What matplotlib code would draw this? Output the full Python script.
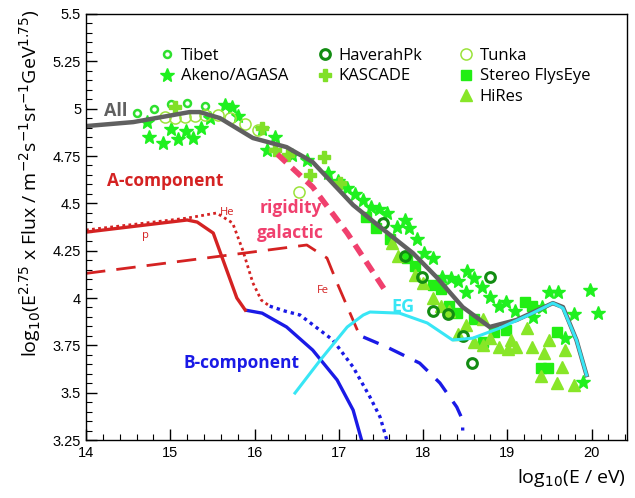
import matplotlib
matplotlib.use("Agg")
import matplotlib.pyplot as plt
from matplotlib.ticker import MultipleLocator

# ---------------- data ----------------
all_x = [14.0, 14.56, 15.23, 15.35, 15.59, 15.98, 16.38, 16.69, 17.17, 17.49, 17.88, 18.16, 18.47, 18.79, 19.11, 19.54, 19.66, 19.82, 19.94]
all_y = [4.908, 4.929, 4.982, 4.982, 4.95, 4.845, 4.797, 4.718, 4.491, 4.375, 4.237, 4.11, 3.952, 3.847, 3.884, 3.973, 3.952, 3.778, 3.593]

eg_x = [16.48, 16.78, 17.10, 17.29, 17.37, 17.72, 18.05, 18.35, 18.59, 18.91, 19.30, 19.54, 19.66, 19.82, 19.94]
eg_y = [3.498, 3.672, 3.847, 3.91, 3.926, 3.92, 3.868, 3.778, 3.788, 3.841, 3.92, 3.973, 3.947, 3.778, 3.593]

pA_x = [14.0, 15.20, 15.32, 15.51, 15.79, 15.89]
pA_y = [4.348, 4.412, 4.401, 4.343, 4.0, 3.936]
pB_x = [15.89, 16.09, 16.38, 16.69, 16.98, 17.17, 17.27, 17.30]
pB_y = [3.936, 3.92, 3.847, 3.725, 3.567, 3.408, 3.25, 3.20]

heA_x = [14.0, 15.20, 15.55, 15.74, 15.86, 15.98, 16.08, 16.18]
heA_y = [4.359, 4.422, 4.449, 4.396, 4.253, 4.08, 3.989, 3.957]
heB_x = [16.18, 16.36, 16.54, 16.93, 17.17, 17.37, 17.49, 17.57, 17.60]
heB_y = [3.957, 3.931, 3.910, 3.778, 3.635, 3.477, 3.371, 3.25, 3.20]

feA_x = [14.0, 15.98, 16.62, 16.86, 16.98, 17.23, 17.29]
feA_y = [4.13, 4.243, 4.280, 4.211, 4.079, 3.820, 3.794]
feB_x = [17.29, 17.57, 17.96, 18.20, 18.40, 18.47, 18.47]
feB_y = [3.794, 3.741, 3.656, 3.551, 3.424, 3.355, 3.30]

rig_x = [16.27, 16.69, 17.10, 17.57]
rig_y = [4.76, 4.586, 4.343, 4.026]

tibet_x = [14.61, 14.81, 15.01, 15.20, 15.41]
tibet_y = [4.977, 4.998, 5.025, 5.030, 5.014]

tunka_x = [14.94, 15.06, 15.17, 15.29, 15.41, 15.57, 15.71, 15.89, 16.04, 16.53]
tunka_y = [4.956, 4.951, 4.956, 4.961, 4.966, 4.966, 4.951, 4.919, 4.887, 4.56]

agasa_x = [14.72, 14.75, 14.91, 15.01, 15.09, 15.19, 15.27, 15.36, 15.47, 15.65, 15.73, 15.80, 16.09, 16.24, 16.15,
           16.44, 16.62, 16.87, 16.99, 17.10, 17.19, 17.29, 17.38, 17.48, 17.57, 17.69, 17.78, 17.83, 17.93, 18.01,
           18.12, 18.22, 18.33, 18.42, 18.52, 18.60, 18.70, 18.51, 18.80, 18.90, 18.99, 19.09, 19.30, 19.41, 19.49,
           19.60, 19.79, 19.98, 20.07, 19.69, 19.90]
agasa_y = [4.93, 4.85, 4.82, 4.89, 4.84, 4.88, 4.845, 4.90, 4.95, 5.02, 5.01, 4.96, 4.89, 4.85, 4.78,
           4.755, 4.73, 4.66, 4.62, 4.58, 4.55, 4.52, 4.48, 4.47, 4.45, 4.375, 4.41, 4.37, 4.31, 4.24,
           4.21, 4.11, 4.105, 4.09, 4.14, 4.105, 4.06, 4.03, 4.005, 3.96, 3.98, 3.93, 3.90, 3.95, 4.03,
           4.03, 3.915, 4.04, 3.92, 3.79, 3.556]

haverah_x = [17.52, 17.78, 17.99, 18.12, 18.29, 18.47, 18.58, 18.79]
haverah_y = [4.396, 4.22, 4.11, 3.93, 3.915, 3.80, 3.656, 4.11]

kascade_x = [15.06, 16.09, 16.24, 16.40, 16.66, 16.82, 17.01]
kascade_y = [5.01, 4.90, 4.78, 4.755, 4.65, 4.745, 4.61]

flys_x = [17.32, 17.44, 17.61, 17.81, 17.91, 18.12, 18.21, 18.31, 18.40, 18.61, 18.71, 18.84, 18.99, 19.21, 19.29, 19.59, 19.40, 19.48]
flys_y = [4.43, 4.37, 4.31, 4.21, 4.17, 4.07, 4.05, 3.96, 3.92, 3.89, 3.77, 3.82, 3.83, 3.98, 3.96, 3.82, 3.63, 3.63]

hires_x = [17.63, 17.70, 17.90, 18.00, 18.12, 18.21, 18.31, 18.41, 18.51, 18.60, 18.71, 18.71, 18.80, 18.90, 19.01,
           19.10, 19.04, 19.23, 19.29, 19.44, 19.49, 19.69, 19.65, 19.59, 19.79, 19.40]
hires_y = [4.29, 4.22, 4.12, 4.08, 4.00, 3.96, 3.93, 3.81, 3.86, 3.77, 3.89, 3.75, 3.79, 3.74, 3.73,
           3.74, 3.78, 3.84, 3.74, 3.71, 3.78, 3.725, 3.635, 3.55, 3.54, 3.59]

x_ticks = [14, 15, 16, 17, 18, 19, 20]
y_ticks = [3.25, 3.5, 3.75, 4.0, 4.25, 4.5, 4.75, 5.0, 5.25, 5.5]
y_ticklabels = ["3.25", "3.5", "3.75", "4", "4.25", "4.5", "4.75", "5", "5.25", "5.5"]

# ---------------- styles ----------------
TXT = ["Open Sans", "DejaVu Sans"]
C_GRAY = "#606060"
C_RED = "#d42222"
C_BLUE = "#1a1ae6"
C_CYAN = "#38e6f5"
C_PINK = "#f0406e"

fig = plt.figure(figsize=(6.35, 4.98), dpi=100)
ax = fig.add_axes([86/635, 1-440/498, (627-86)/635, (440-14)/498])

# data points
ax.plot(tibet_x, tibet_y, 'o', ls='none', ms=5, mfc='none', mec='#2ee02e', mew=1.8, label='Tibet')
ax.plot(agasa_x, agasa_y, '*', ls='none', ms=10.5, color='#1ff01f', mec='#1ff01f', label='Akeno/AGASA')
ax.plot(tunka_x, tunka_y, 'o', ls='none', ms=8, mfc='none', mec='#9be33a', mew=1.1, label='Tunka')
ax.plot(kascade_x, kascade_y, 'P', ls='none', ms=8, color='#80e028', mec='#80e028', label='KASCADE')
ax.plot(flys_x, flys_y, 's', ls='none', ms=7, color='#22ee14', mec='#22ee14', label='Stereo FlysEye')
ax.plot(hires_x, hires_y, '^', ls='none', ms=8, color='#88e628', mec='#88e628', label='HiRes')
ax.plot(haverah_x, haverah_y, 'o', ls='none', ms=7, mfc='none', mec='#128c12', mew=2.2, label='HaverahPk')

# lines
ax.plot(pB_x, pB_y, '-', color=C_BLUE, lw=2.4, solid_capstyle='butt')
ax.plot(heB_x, heB_y, color=C_BLUE, lw=2.4, ls=(0, (1, 1.2)))
ax.plot(feB_x, feB_y, color=C_BLUE, lw=2.4, ls=(0, (5, 3.5)))
ax.plot(pA_x, pA_y, '-', color=C_RED, lw=2.4)
ax.plot(heA_x, heA_y, color=C_RED, lw=2.0, ls=(0, (1, 1.2)))
ax.plot(feA_x, feA_y, color=C_RED, lw=2.0, ls=(0, (7, 4)))
ax.plot(rig_x, rig_y, color=C_PINK, lw=4.0, ls=(0, (2.2, 1.4)))
ax.plot(all_x, all_y, '-', color=C_GRAY, lw=3.2, solid_joinstyle='round')
ax.plot(eg_x, eg_y, '-', color=C_CYAN, lw=2.2)

# labels in plot
ax.text(14.21, 4.99, "All", color=C_GRAY, fontsize=13, fontweight='bold', family=TXT, ha='left', va='center')
ax.text(14.94, 4.62, "A-component", color=C_RED, fontsize=12.5, fontweight='bold', family=TXT, ha='center', va='center')
ax.text(16.43, 4.475, "rigidity", color=C_PINK, fontsize=12.5, fontweight='bold', family=TXT, ha='center', va='center')
ax.text(16.43, 4.343, "galactic", color=C_PINK, fontsize=12.5, fontweight='bold', family=TXT, ha='center', va='center')
ax.text(15.68, 4.45, "He", color=C_RED, fontsize=8, family=TXT, ha='center', va='center')
ax.text(14.70, 4.33, "p", color=C_RED, fontsize=8, family=TXT, ha='center', va='center')
ax.text(16.81, 4.04, "Fe", color=C_RED, fontsize=8, family=TXT, ha='center', va='center')
ax.text(17.76, 3.955, "EG", color=C_CYAN, fontsize=13, fontweight='bold', family=TXT, ha='center', va='center')
ax.text(15.84, 3.655, "B-component", color=C_BLUE, fontsize=12.5, fontweight='bold', family=TXT, ha='center', va='center')

# axes setup
ax.set_xlim(14, 20.42)
ax.set_ylim(3.25, 5.5)
ax.set_xticks(x_ticks)
ax.set_yticks(y_ticks)
ax.set_yticklabels(y_ticklabels)
ax.xaxis.set_minor_locator(MultipleLocator(0.2))
ax.yaxis.set_minor_locator(MultipleLocator(0.05))
ax.tick_params(which='both', direction='in', top=False, right=False, labelsize=10.5)
ax.tick_params(which='major', length=8, width=1.0)
ax.tick_params(which='minor', length=4, width=0.8)
for lab in ax.get_xticklabels() + ax.get_yticklabels():
    lab.set_family(["Liberation Sans", "DejaVu Sans"])
ax.tick_params(axis='x', pad=4)
for s in ax.spines.values():
    s.set_linewidth(1.0)

fig.text(30/635, 1-183/498, r"log$_{10}$(E$^{2.75}$ x Flux / m$^{-2}$s$^{-1}$sr$^{-1}$GeV$^{1.75}$)",
         rotation=90, ha='center', va='center', fontsize=14, family=TXT)
fig.text(626/635, 1-478/498, r"log$_{10}$(E / eV)", ha='right', va='center', fontsize=14, family=TXT)

# legends (three columns)
handles, labels = ax.get_legend_handles_labels()
hmap = dict(zip(labels, handles))
cols = [(["Tibet", "Akeno/AGASA"], 150/635), (["HaverahPk", "KASCADE"], 308/635), (["Tunka", "Stereo FlysEye", "HiRes"], 449/635)]
for names, xpos in cols:
    fig.legend([hmap[n] for n in names], names, loc='upper left', bbox_to_anchor=(xpos, 1-40/498),
               frameon=False, handlelength=1.0, handletextpad=0.35, labelspacing=0.25,
               borderpad=0, prop={'family': TXT, 'size': 12}, numpoints=1)

fig.savefig("out.png", dpi=100)
